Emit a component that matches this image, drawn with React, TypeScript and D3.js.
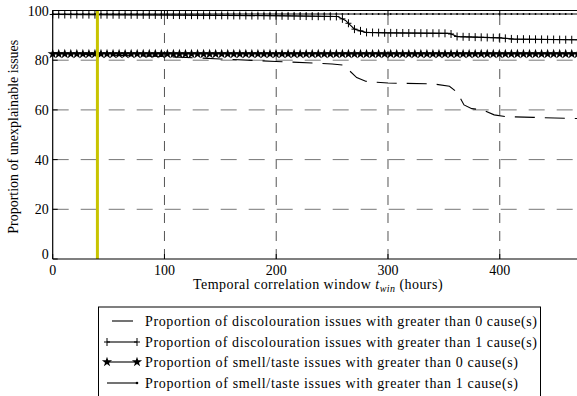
import React from 'react';
import * as d3 from 'd3';

// series (hours, percent)
const disc0Hours = [0, 20, 50, 100, 150, 200, 250, 260, 265, 272, 280, 300, 340, 355, 362, 368, 375, 385, 395, 405, 430, 470];
const disc0Values = [83, 82.5, 82, 81.5, 80.5, 79.5, 78.5, 78, 76, 73, 71.5, 70.8, 70.5, 69.5, 67, 62, 60.5, 60, 58, 57.3, 57, 56.5];

const disc1Hours = [0, 100, 200, 255, 262, 270, 280, 300, 355, 362, 400, 412, 470];
const disc1Values = [98.4, 98.2, 97.9, 97.6, 96, 92.5, 91.2, 91, 90.8, 89.5, 89, 88.5, 88.2];

const smell0Hours = [0, 470];
const smell0Values = [82.5, 82.5];

const smell1Hours = [0, 470];
const smell1Values = [98.6, 98.6];

const windowHours = 40;

const xTicks = [0, 100, 200, 300, 400];
const yTicks = [0, 20, 40, 60, 80, 100];

const legendLabels = [
  'Proportion of discolouration issues with greater than 0 cause(s)',
  'Proportion of discolouration issues with greater than 1 cause(s)',
  'Proportion of smell/taste issues with greater than 0 cause(s)',
  'Proportion of smell/taste issues with greater than 1 cause(s)',
];

const FONT = '"Liberation Serif", "DejaVu Serif", serif';

export default function App() {
  const left = 52.7;
  const right = 578;
  const top = 10.5;
  const bottom = 259;

  const x = d3.scaleLinear().domain([0, 470]).range([left, right]);
  const y = d3.scaleLinear().domain([0, 100]).range([bottom, top]);

  const line = d3.line<[number, number]>()
    .x(d => x(d[0]))
    .y(d => y(d[1]));

  const pts = (h: number[], v: number[]) => h.map((hh, i) => [hh, v[i]] as [number, number]);

  // marker placement along each series (decoration only)
  const markerStep = 5.4;
  const markerHours = d3.range(0, 470, markerStep);
  const disc1At = d3.scaleLinear().domain(disc1Hours).range(disc1Values);
  const smell0At = d3.scaleLinear().domain(smell0Hours).range(smell0Values);
  const smell1At = d3.scaleLinear().domain(smell1Hours).range(smell1Values);

  const star = d3.symbol().type(d3.symbolStar).size(32)();

  const plus = (cx: number, cy: number, key: string | number) => (
    <g key={key}>
      <line x1={cx} x2={cx} y1={cy - 4} y2={cy + 4} stroke="#000" strokeWidth={1} />
      <line x1={cx - 3} x2={cx + 3} y1={cy} y2={cy} stroke="#000" strokeWidth={1} />
    </g>
  );

  const legTop = 307;
  const rowY = [321, 342, 362, 383];

  return (
    <svg width={577} height={396} style={{ position: 'absolute', left: 0, top: 0, background: '#fff' }}
      fontFamily={FONT}>
      <rect x={0} y={0} width={577} height={396} fill="#fff" />

      {/* grid */}
      {yTicks.filter(t => t > 0 && t < 100).map(t => (
        <line key={'gy' + t} x1={left} x2={right} y1={y(t)} y2={y(t)}
          stroke="#777" strokeWidth={1} strokeDasharray="16 12" />
      ))}
      {xTicks.filter(t => t > 0).map(t => (
        <line key={'gx' + t} x1={x(t)} x2={x(t)} y1={bottom} y2={top}
          stroke="#555" strokeWidth={1} strokeDasharray="10 8" />
      ))}

      {/* series */}
      <path d={line(pts(disc0Hours, disc0Values)) || ''} fill="none" stroke="#000" strokeWidth={1.1}
        strokeDasharray="20 10" />
      <path d={line(pts(smell0Hours, smell0Values)) || ''} fill="none" stroke="#000" strokeWidth={1.2} />
      {markerHours.map((h, i) => (
        <path key={'s0' + i} d={star || ''} transform={`translate(${x(h)},${y(smell0At(h))})`} fill="#000" />
      ))}
      <path d={line(pts(disc1Hours, disc1Values)) || ''} fill="none" stroke="#000" strokeWidth={1.1} />
      {markerHours.map((h, i) => plus(x(h), y(disc1At(h)), 'd1' + i))}
      <path d={line(pts(smell1Hours, smell1Values)) || ''} fill="none" stroke="#000" strokeWidth={1.1} />
      {markerHours.map((h, i) => (
        <circle key={'s1' + i} cx={x(h)} cy={y(smell1At(h))} r={0.9} fill="#000" />
      ))}

      {/* time window marker */}
      <line x1={x(windowHours)} x2={x(windowHours)} y1={top} y2={bottom} stroke="#c8c400" strokeWidth={3} />

      {/* frame */}
      <line x1={left} x2={right} y1={top} y2={top} stroke="#000" strokeWidth={1.2} />
      <line x1={left} x2={right} y1={bottom} y2={bottom} stroke="#000" strokeWidth={1.2} />
      <line x1={left} x2={left} y1={top} y2={bottom} stroke="#000" strokeWidth={1.2} />

      {/* ticks */}
      {xTicks.map(t => (
        <g key={'tx' + t}>
          <line x1={x(t)} x2={x(t)} y1={bottom} y2={bottom - 5} stroke="#000" />
          <line x1={x(t)} x2={x(t)} y1={top} y2={top + 5} stroke="#000" />
          <text x={x(t)} y={bottom + 16} textAnchor="middle" fontSize={14}>{t}</text>
        </g>
      ))}
      {yTicks.map(t => (
        <g key={'ty' + t}>
          <line x1={left} x2={left + 5} y1={y(t)} y2={y(t)} stroke="#000" />
          <text x={left - 4} y={y(t) + (t === 0 ? 0 : 5)} textAnchor="end" fontSize={14}>{t}</text>
        </g>
      ))}

      {/* axis labels */}
      <text x={318} y={289} textAnchor="middle" fontSize={14} letterSpacing={0.45}>
        Temporal correlation window <tspan fontStyle="italic">t</tspan>
        <tspan fontStyle="italic" fontSize={10} dy={3}>win</tspan>
        <tspan dy={-3}> (hours)</tspan>
      </text>
      <text transform={`translate(18,${(top + bottom) / 2 + 2}) rotate(-90)`} textAnchor="middle" fontSize={14}>
        Proportion of unexplainable issues
      </text>

      {/* legend */}
      <rect x={98.5} y={legTop} width={442} height={95} fill="#fff" stroke="#000" strokeWidth={1} />
      <line x1={112} x2={133} y1={rowY[0]} y2={rowY[0]} stroke="#000" strokeWidth={1.1} />
      <line x1={107} x2={137} y1={rowY[1]} y2={rowY[1]} stroke="#000" strokeWidth={1.1} />
      {plus(107, rowY[1], 'lp1')}
      {plus(137, rowY[1], 'lp2')}
      <line x1={107} x2={137} y1={rowY[2]} y2={rowY[2]} stroke="#000" strokeWidth={1.1} />
      <path d={star || ''} transform={`translate(107,${rowY[2]})`} fill="#000" />
      <path d={star || ''} transform={`translate(137,${rowY[2]})`} fill="#000" />
      <line x1={107} x2={137} y1={rowY[3]} y2={rowY[3]} stroke="#000" strokeWidth={1.1} />
      <circle cx={137} cy={rowY[3]} r={1.3} fill="#000" />
      {legendLabels.map((l, i) => (
        <text key={l} x={145} y={rowY[i] + 5} fontSize={14}
          textLength={i < 2 ? 392 : 373} lengthAdjust="spacing">{l}</text>
      ))}
    </svg>
  );
}
